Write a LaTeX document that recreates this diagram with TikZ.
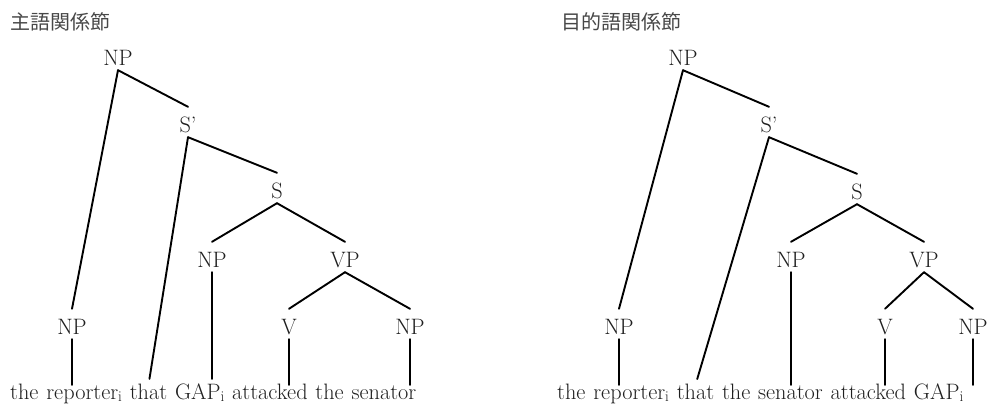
\documentclass[tikz,border=0pt]{standalone}
\usepackage{fontspec}
\newfontfamily\jpfont{Noto Sans CJK JP}
\newcommand{\subi}{\raisebox{-2.6pt}{\fontsize{15}{16}\selectfont i}}
\begin{document}
\begin{tikzpicture}[x=1pt,y=-1pt,
  cat/.style={inner sep=0pt, anchor=base, font=\fontsize{22.3}{26}\selectfont,
              text height=25pt, text depth=5pt, text=black!88},
  word/.style={inner sep=0pt, anchor=base west, font=\fontsize{22.3}{26}\selectfont,
               text height=14pt, text depth=0pt, text=black!88},
  title/.style={inner sep=0pt, anchor=west, font=\jpfont\fontsize{20}{24}\selectfont, text=black!72},
  branch/.style={line width=1.9pt, line cap=round}]
\useasboundingbox (0,0) rectangle (1000,404);

% ---------- left: subject relative ----------
\node[title] (t1) at (10,22) {主語関係節};
\node[cat] (a-np0) at (118,65) {NP};
\node[cat] (a-sp)  at (188,132) {S’};
\node[cat] (a-s)   at (277,198) {S};
\node[cat] (a-npm) at (212,267) {NP};
\node[cat] (a-vp)  at (345,267) {VP};
\node[cat] (a-npl) at (72,334) {NP};
\node[cat] (a-v)   at (289,334) {V};
\node[cat] (a-npr) at (410,334) {NP};

\node[word] (a-w1) at (10,399) {the};
\node[word] (a-w2) at ([xshift=7.4pt]a-w1.base east) {reporter\subi};
\node[word] (a-w3) at ([xshift=7.4pt]a-w2.base east) {that};
\node[word] (a-w4) at ([xshift=7.4pt]a-w3.base east) {GAP\subi};
\node[word] (a-w5) at ([xshift=7.4pt]a-w4.base east) {attacked};
\node[word] (a-w6) at ([xshift=7.4pt]a-w5.base east) {the};
\node[word] (a-w7) at ([xshift=7.4pt]a-w6.base east) {senator};

\draw[branch] (a-np0.south) -- (a-sp.north);
\draw[branch] (a-np0.south) -- (a-npl.north);
\draw[branch] (a-sp.south) -- (a-s.north);
\draw[branch, shorten >=6pt] (a-sp.south) -- (a-w3.north);
\draw[branch] (a-s.south) -- (a-npm.north);
\draw[branch] (a-s.south) -- (a-vp.north);
\draw[branch] (a-vp.south) -- (a-v.north);
\draw[branch] (a-vp.south) -- (a-npr.north);
\draw[branch] (a-npl.south) -- (a-npl.south |- a-w2.north);
\draw[branch, shorten >=6pt] (a-npm.south) -- (a-npm.south |- a-w4.north);
\draw[branch] (a-v.south) -- (a-v.south |- a-w5.north);
\draw[branch] (a-npr.south) -- (a-npr.south |- a-w7.north);

% ---------- right: object relative ----------
\node[title] (t2) at (561,22) {目的語関係節};
\node[cat] (b-np0) at (683,65) {NP};
\node[cat] (b-sp)  at (769,132) {S’};
\node[cat] (b-s)   at (857,199) {S};
\node[cat] (b-npm) at (791,267) {NP};
\node[cat] (b-vp)  at (924,267) {VP};
\node[cat] (b-npl) at (619,334) {NP};
\node[cat] (b-v)   at (885,334) {V};
\node[cat] (b-npr) at (973,334) {NP};

\node[word] (b-w1) at (557,399) {the};
\node[word] (b-w2) at ([xshift=7.4pt]b-w1.base east) {reporter\subi};
\node[word] (b-w3) at ([xshift=7.4pt]b-w2.base east) {that};
\node[word] (b-w4) at ([xshift=7.4pt]b-w3.base east) {the};
\node[word] (b-w5) at ([xshift=7.4pt]b-w4.base east) {senator};
\node[word] (b-w6) at ([xshift=7.4pt]b-w5.base east) {attacked};
\node[word] (b-w7) at ([xshift=7.4pt]b-w6.base east) {GAP\subi};

\draw[branch] (b-np0.south) -- (b-sp.north);
\draw[branch] (b-np0.south) -- (b-npl.north);
\draw[branch] (b-sp.south) -- (b-s.north);
\draw[branch, shorten >=6pt] (b-sp.south) -- (b-w3.north);
\draw[branch] (b-s.south) -- (b-npm.north);
\draw[branch] (b-s.south) -- (b-vp.north);
\draw[branch] (b-vp.south) -- (b-v.north);
\draw[branch] (b-vp.south) -- (b-npr.north);
\draw[branch] (b-npl.south) -- (b-npl.south |- b-w2.north);
\draw[branch] (b-npm.south) -- (b-npm.south |- b-w5.north);
\draw[branch] (b-v.south) -- (b-v.south |- b-w6.north);
\draw[branch] (b-npr.south) -- (b-npr.south |- b-w7.north);
\end{tikzpicture}
\end{document}
